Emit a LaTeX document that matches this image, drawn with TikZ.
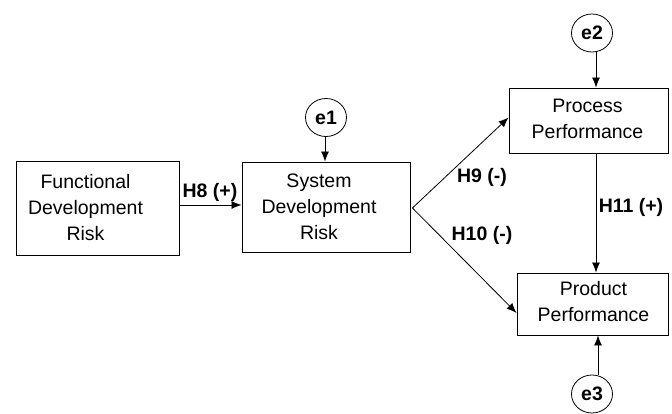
\documentclass[tikz,border=0pt]{standalone}
\usepackage{fontspec}
\setmainfont{Liberation Sans}
\usetikzlibrary{arrows.meta,shapes.geometric}
\begin{document}
\begin{tikzpicture}[x=1pt,y=-1pt,
  every node/.style={font=\fontsize{19.5}{26}\selectfont},
  varbox/.style={draw,line width=0.9pt,rectangle,inner sep=0pt},
  errc/.style={draw,line width=0.8pt,ellipse,minimum width=41pt,minimum height=38pt,inner sep=0pt,font=\fontsize{19.5}{26}\selectfont\bfseries},
  lbl/.style={font=\fontsize{19.5}{26}\selectfont\bfseries,inner sep=0pt},
  txt/.style={align=center,inner sep=0pt},
  arr/.style={line width=0.8pt,-{Latex[length=10pt,width=8pt]}}]
\useasboundingbox (0,0) rectangle (672,414);
% boxes
\node[varbox,minimum width=163pt,minimum height=94pt] (fdr) at (97.5,208) {};
\node[txt] (fdrt) at ([xshift=-12pt]fdr.center) {Functional\\Development\\Risk};
\node[varbox,minimum width=168pt,minimum height=90pt] (sdr) at (326,207) {};
\node[txt] (sdrt) at ([xshift=-7pt]sdr.center) {System\\Development\\Risk};
\node[varbox,minimum width=159pt,minimum height=65pt] (proc) at (588.5,120.5) {};
\node[txt] (proct) at ([xshift=-1pt,yshift=2pt]proc.center) {Process\\Performance};
\node[varbox,minimum width=151pt,minimum height=62pt] (prod) at (592.5,304) {};
\node[txt] (prodt) at ([xshift=1pt,yshift=2pt]prod.center) {Product\\Performance};
% error terms
\node[errc] (e1) at (326,117.5) {e1};
\node[errc] (e2) at (592,33) {e2};
\node[errc] (e3) at (592,394) {e3};
% connectors
\draw[arr] ([yshift=3pt]fdr.east) -- ([yshift=3pt]fdr.east -| sdr.west);
\draw[arr] ([xshift=-1pt]e1.south) -- ([xshift=-1pt]e1.south |- sdr.north);
\draw[arr] ([xshift=4pt]e2.south) -- ([xshift=4pt]e2.south |- proc.north);
\coordinate (fork) at ([xshift=2pt,yshift=-1pt]sdr.east);
\draw[arr] (fork) -- ([yshift=3pt]proc.west);
\draw[arr] (fork) -- ([yshift=-9pt]prod.west);
\draw[arr] ([xshift=7.5pt]proc.south) -- ([xshift=7.5pt]proc.south |- prod.north);
\draw[arr] (e3.north -| 598,0) -- (prod.south -| 598,0);
% labels
\node[lbl] (h8) at (210,192) {H8 (+)};
\node[lbl] (h9) at (482,177) {H9 (-)};
\node[lbl] (h10) at (482,235) {H10 (-)};
\node[lbl] (h11) at (631,207) {H11 (+)};
\end{tikzpicture}
\end{document}
